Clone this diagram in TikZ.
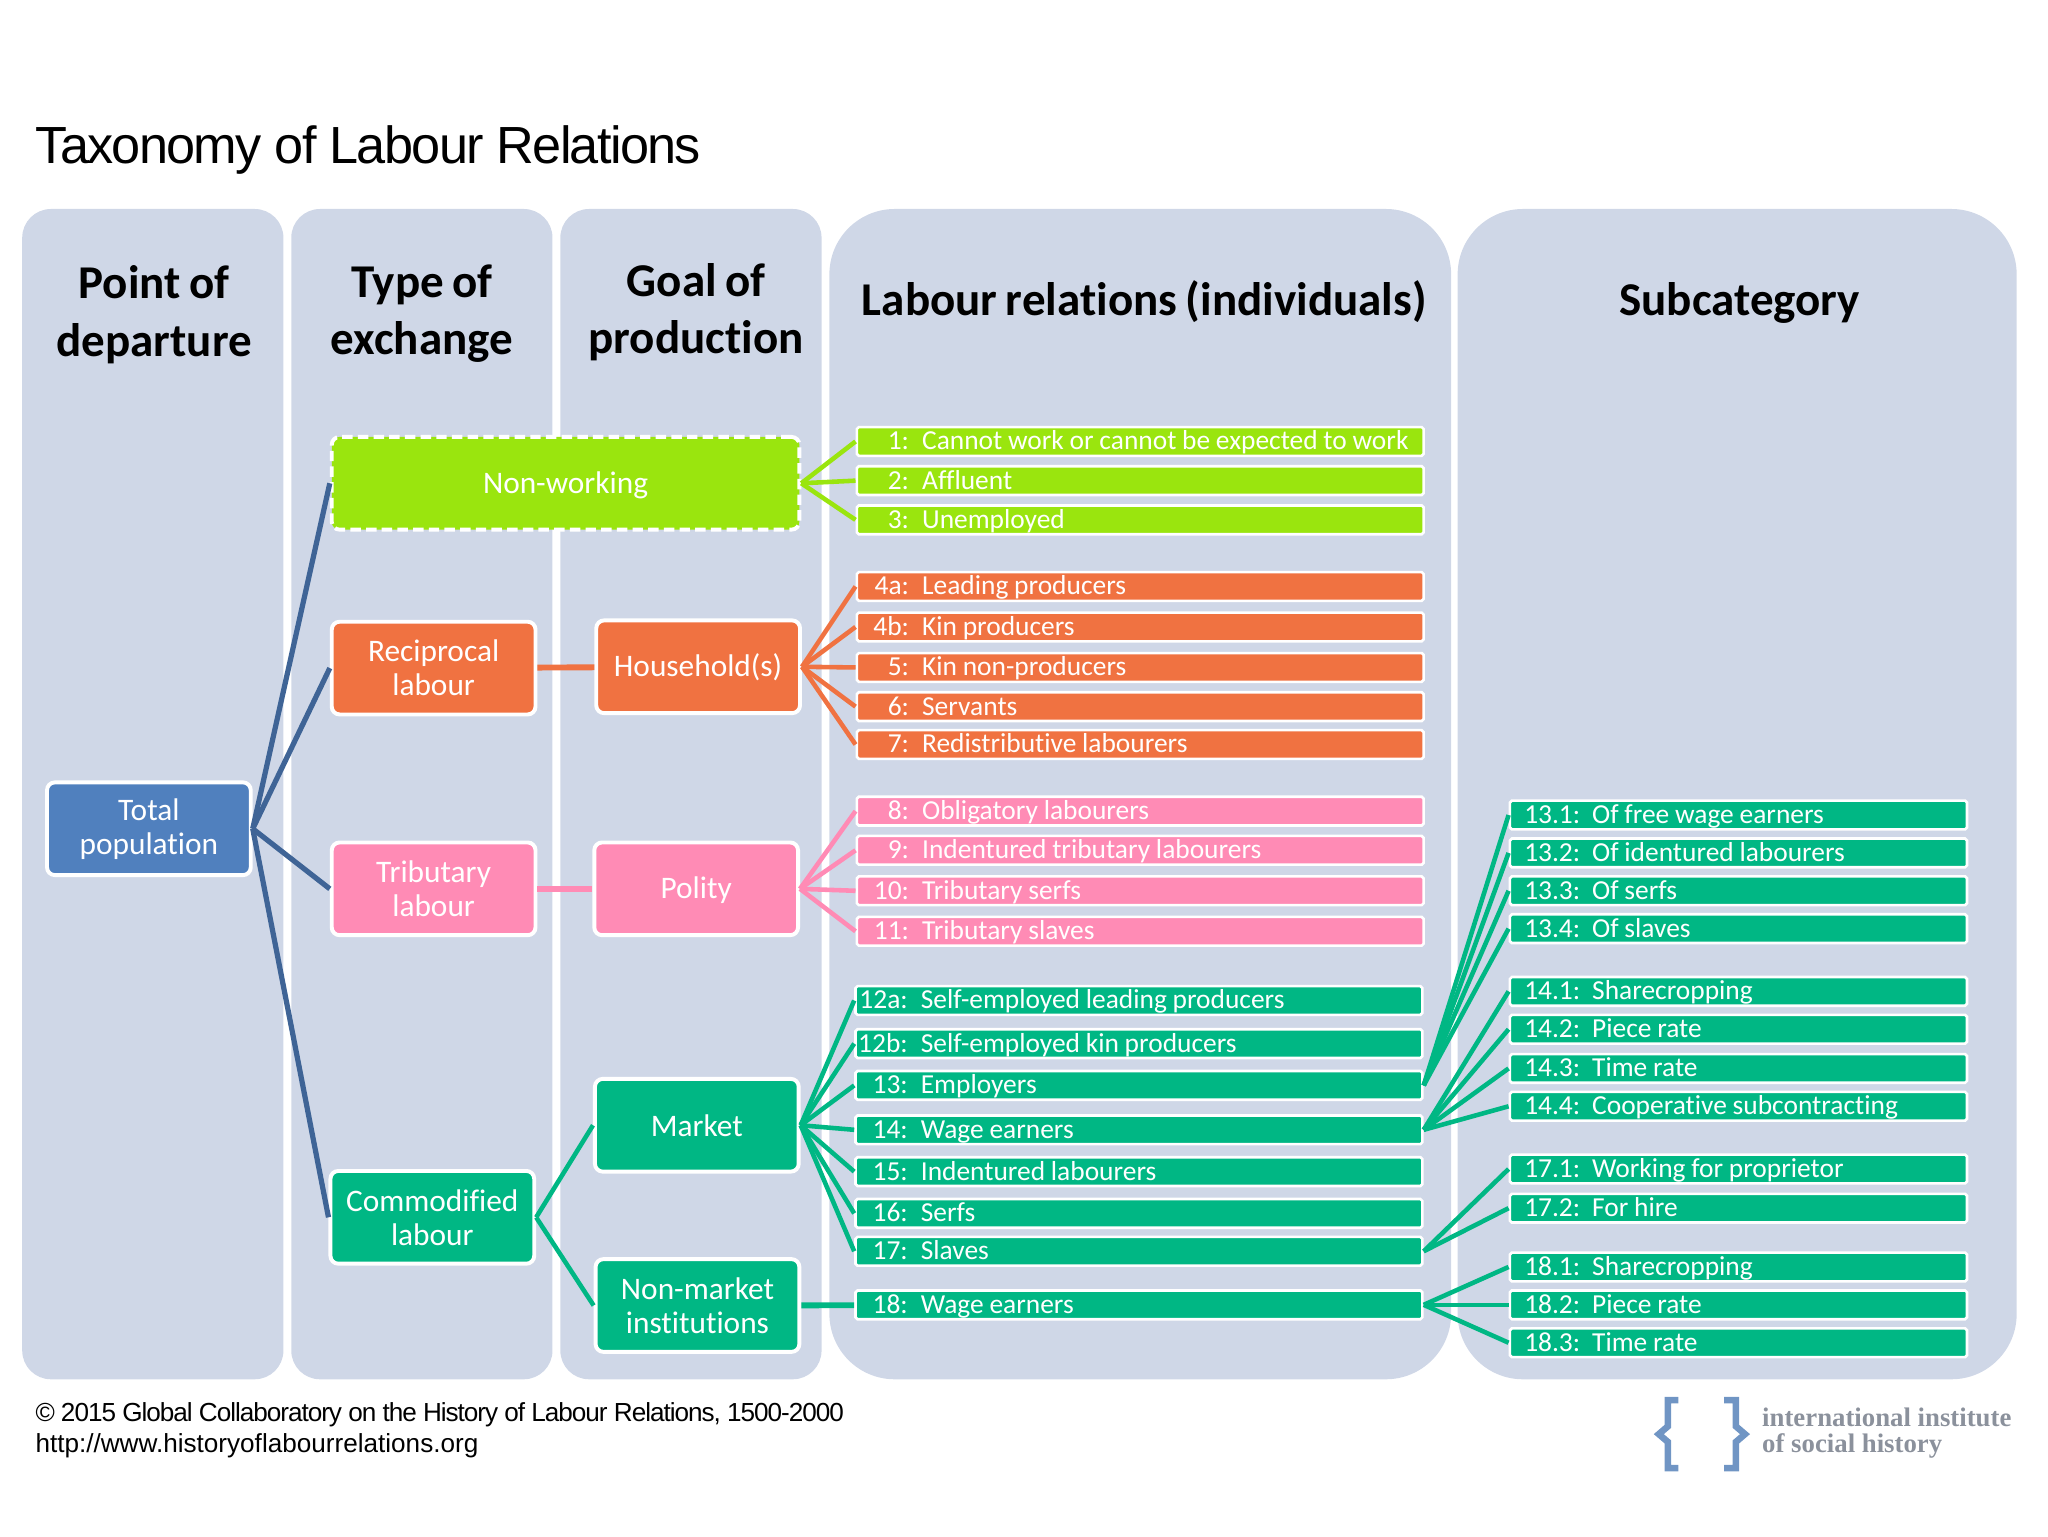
\documentclass[tikz,border=0pt]{standalone}
\usepackage{fontspec}
\setmainfont{Carlito}[Ligatures=NoCommon,WordSpace=0.8]
\newfontfamily\arialfont{Liberation Sans}
\newfontfamily\titlefont{Liberation Sans}[LetterSpace=-3.2]
\newfontfamily\copyfont{Liberation Sans}[LetterSpace=-3.9]
\newfontfamily\logofont{Liberation Serif}
\definecolor{panelblue}{HTML}{CFD7E7}
\definecolor{lime}{HTML}{9AE50E}
\definecolor{rust}{HTML}{F07241}
\definecolor{rose}{HTML}{FF8BB5}
\definecolor{jade}{HTML}{00B784}
\definecolor{steel}{HTML}{5080BE}
\definecolor{darksteel}{HTML}{3F6496}
\definecolor{logoblue}{HTML}{7095C4}
\definecolor{logogrey}{HTML}{8B919C}
\tikzset{panel/.style={fill=panelblue, rounded corners=#1},
         panel/.default=22pt,
         headtext/.style={font=\fontsize{36}{44}\selectfont\bfseries, align=center, text=black},
         bigbox/.style={draw=white, fill=#1, line width=3pt, rounded corners=6pt, text=white,
           minimum width=156pt, minimum height=71pt, inner sep=0pt, align=center,
           font=\fontsize{24}{26}\selectfont},
         lowered/.style={text height=19pt, text depth=4pt},
         itembox/.style={draw=white, fill=#1, line width=2pt, rounded corners=1.5pt, text=white,
           minimum width=434pt, minimum height=22pt, inner ysep=0pt, inner xsep=1pt, anchor=west,
           text width=432pt, align=left, text height=16pt, text depth=3pt,
           font=\fontsize{21}{22}\selectfont},
         subbox/.style={itembox=#1, minimum width=350pt, text width=348pt},
         link/.style={draw=#1, line width=3.5pt}}
\newcommand{\numbered}[2]{\mbox{\spaceskip=4.4pt\relax\makebox[39pt][r]{#1}\hspace{10pt}#2}}
\newcommand{\subnum}[2]{\mbox{\spaceskip=4.4pt\relax\hspace{10pt}\makebox[52pt][l]{#1}#2}}
\begin{document}
\begin{tikzpicture}[x=1pt,y=-1pt]
  \useasboundingbox (0,0) rectangle (1568,1176);
  % columns
  \fill[panel] (17,160) rectangle (217,1056);
  \fill[panel] (223,160) rectangle (423,1056);
  \fill[panel] (429,160) rectangle (629,1056);
  \fill[panel=50pt] (635,160) rectangle (1111,1056);
  \fill[panel=50pt] (1116,160) rectangle (1544,1056);

  \node[anchor=base west, font=\titlefont\fontsize{40}{44}\selectfont, inner sep=0pt] (title) at (27,125)
    {Taxonomy of Labour Relations};

  \node[headtext] (headone) at (118,241) {Point of\\departure};
  \node[headtext] (headtwo) at (323,240) {Type of\\exchange};
  \node[headtext] (headthree) at (533,239) {Goal of\\production};
  \node[headtext] (headfour) at (876,231) {Labour relations (individuals)};
  \node[headtext] (headfive) at (1332,232) {Subcategory};

  % main boxes
  \node[bigbox=steel] (total) at (114,634.5) {Total\\population};
  \node[bigbox=lime, minimum width=358pt, dash pattern=on 8pt off 4pt, lowered] (nonwork) at (433,370) {Non-working};
  \node[bigbox=rust] (recip) at (332,511.5) {Reciprocal\\labour};
  \node[bigbox=rust, lowered] (house) at (534.5,510.5) {Household(s)};
  \node[bigbox=rose] (tribut) at (332,680.5) {Tributary\\labour};
  \node[bigbox=rose, lowered] (polity) at (533,680.5) {Polity};
  \node[bigbox=jade] (commod) at (331,932) {Commodified\\labour};
  \node[bigbox=jade] (market) at (533.5,861.5) {Market};
  \node[bigbox=jade] (nonmarket) at (534,999.5) {Non-market\\institutions};

  % labour relations
  \foreach \id/\ypos/\num/\txt in {r1/338/1:/Cannot work or cannot be expected to work,
      r2/368/2:/Affluent, r3/398/3:/Unemployed}
    \node[itembox=lime] (\id) at (655,\ypos) {\numbered{\num}{\txt}};
  \foreach \id/\ypos/\num/\txt in {r4a/449/4a:/Leading producers, r4b/480/4b:/Kin producers,
      r5/511/5:/Kin non-producers, r6/541/6:/Servants, r7/570/7:/Redistributive labourers}
    \node[itembox=rust] (\id) at (655,\ypos) {\numbered{\num}{\txt}};
  \foreach \id/\ypos/\num/\txt in {r8/621/8:/Obligatory labourers, r9/651/9:/Indentured tributary labourers,
      r10/682/10:/Tributary serfs, r11/713/11:/Tributary slaves}
    \node[itembox=rose] (\id) at (655,\ypos) {\numbered{\num}{\txt}};
  \foreach \id/\ypos/\num/\txt in {r12a/766/12a:/Self-employed leading producers, r12b/799/12b:/Self-employed kin producers,
      r13/831/13:/Employers, r14/865/14:/Wage earners, r15/897/15:/Indentured labourers,
      r16/929/16:/Serfs, r17/958/17:/Slaves, r18/999/18:/Wage earners}
    \node[itembox=jade] (\id) at (654,\ypos) {\numbered{\num}{\txt}};

  % subcategories
  \foreach \id/\ypos/\num/\txt in {s131/624/13.1:/Of free wage earners, s132/653/13.2:/Of identured labourers,
      s133/682/13.3:/Of serfs, s134/711/13.4:/Of slaves,
      s141/759/14.1:/Sharecropping, s142/788/14.2:/Piece rate, s143/818/14.3:/Time rate,
      s144/847/14.4:/Cooperative subcontracting,
      s171/895/17.1:/Working for proprietor, s172/925/17.2:/For hire,
      s181/970/18.1:/Sharecropping, s182/999/18.2:/Piece rate, s183/1028/18.3:/Time rate}
    \node[subbox=jade] (\id) at (1155,\ypos) {\subnum{\num}{\txt}};

  % connectors
  \foreach \to in {nonwork,recip,tribut,commod}
    \draw[link=darksteel, line width=4pt] (total.east) -- (\to.west);
  \foreach \to in {r1,r2,r3}
    \draw[link=lime] (nonwork.east) -- (\to.west);
  \draw[link=rust, line width=4.5pt] (recip) -- (house);
  \foreach \to in {r4a,r4b,r5,r6,r7}
    \draw[link=rust] (house.east) -- (\to.west);
  \draw[link=rose, line width=4.5pt] (tribut) -- (polity);
  \foreach \to in {r8,r9,r10,r11}
    \draw[link=rose] (polity.east) -- (\to.west);
  \foreach \to in {market,nonmarket}
    \draw[link=jade] (commod.east) -- (\to.west);
  \foreach \to in {r12a,r12b,r13,r14,r15,r16,r17}
    \draw[link=jade] (market.east) -- (\to.west);
  \draw[link=jade, line width=4.5pt] (nonmarket) -- (r18);
  \foreach \to in {s131,s132,s133,s134}
    \draw[link=jade] (r13.east) -- (\to.west);
  \foreach \to in {s141,s142,s143,s144}
    \draw[link=jade] (r14.east) -- (\to.west);
  \foreach \to in {s171,s172}
    \draw[link=jade] (r17.east) -- (\to.west);
  \foreach \to in {s181,s182,s183}
    \draw[link=jade] (r18.east) -- (\to.west);

  % footer
  \node[anchor=west, inner sep=0pt, font=\copyfont\fontsize{20}{24}\selectfont] (copyline) at (27,1083)
    {© 2015 Global Collaboratory on the History of Labour Relations, 1500-2000};
  \node[anchor=west, inner sep=0pt, font=\arialfont\fontsize{20}{24}\selectfont] (urlline) at (27,1107)
    {http://www.historyoflabourrelations.org};

  % logo
  \draw[logoblue, line width=5pt] (1285,1072) -- (1277,1072) -- (1277,1092) -- (1270,1098)
    -- (1277,1104) -- (1277,1124) -- (1285,1124);
  \draw[logoblue, line width=5pt] (1320,1072) -- (1329,1072) -- (1329,1092) -- (1336,1098)
    -- (1329,1104) -- (1329,1124) -- (1320,1124);
  \node[anchor=west, inner sep=0pt, text=logogrey, font=\logofont\bfseries\fontsize{20.5}{21}\selectfont] (logoone) at (1349,1085)
    {international institute};
  \node[anchor=west, inner sep=0pt, text=logogrey, font=\logofont\bfseries\fontsize{20.5}{21}\selectfont] (logotwo) at (1349,1107)
    {of social history};
\end{tikzpicture}
\end{document}
